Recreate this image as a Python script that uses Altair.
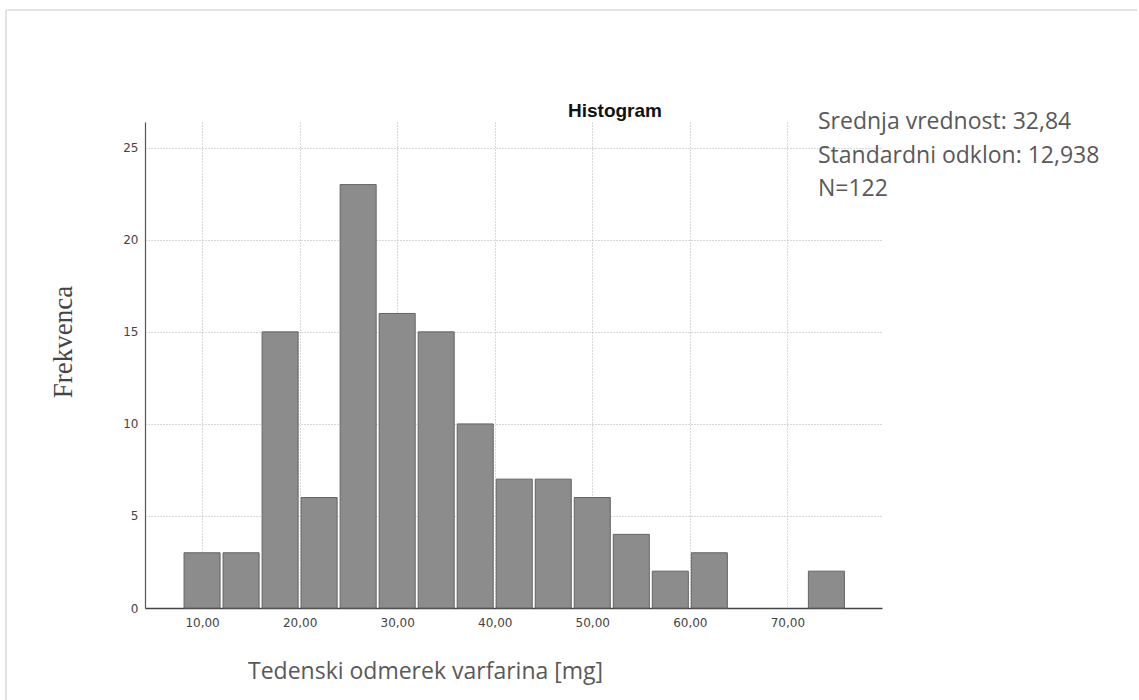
import altair as alt
import pandas as pd

# Histogram bins (lower edges, width 4 mg) and frequencies
bin_start = [8, 12, 16, 20, 24, 28, 32, 36, 40, 44, 48, 52, 56, 60, 64, 68, 72]
counts = [3, 3, 15, 6, 23, 16, 15, 10, 7, 7, 6, 4, 2, 3, 0, 0, 2]
bin_width = 4
x_ticks = [10, 20, 30, 40, 50, 60, 70]
y_ticks = [0, 5, 10, 15, 20, 25]
stats_lines = ["Srednja vrednost: 32,84", "Standardni odklon: 12,938", "N=122"]

df = pd.DataFrame({
    "start": bin_start,
    "end": [b + bin_width for b in bin_start],
    "count": counts,
})

W, H = 737, 486
xscale = alt.Scale(domain=[4.15, 79.7], nice=False, zero=False)
yscale = alt.Scale(domain=[0, 26.4], nice=False)

bars = alt.Chart(df).transform_filter("datum.count > 0").mark_bar(
    color="#8c8c8c", stroke="#636363", strokeWidth=1, xOffset=1.5, x2Offset=-1.5
).encode(
    x=alt.X("start:Q", scale=xscale,
            axis=alt.Axis(values=x_ticks, title=None, grid=True, gridDash=[1, 2],
                          gridColor="#b0b0b0", ticks=False, domainColor="#444444",
                          domainWidth=1.5, labelFont="DejaVu Sans", labelFontSize=12,
                          labelColor="#444444", labelPadding=9,
                          labelExpr="replace(format(datum.value, '.2f'), '.', ',')")),
    x2="end:Q",
    y=alt.Y("count:Q", scale=yscale,
            axis=alt.Axis(values=y_ticks, title=None, grid=True, gridDash=[1, 2],
                          gridColor="#b0b0b0", ticks=False, domainColor="#555555",
                          domainWidth=1.2, labelFont="DejaVu Sans", labelFontSize=12,
                          labelColor="#444444", labelPadding=7)),
    y2=alt.datum(0),
)

def txt(s, x, y, **kw):
    return alt.Chart(pd.DataFrame({"t": [s]})).mark_text(**kw).encode(
        x=alt.value(x), y=alt.value(y), text="t:N")

title = txt("Histogram", 470, -11, font="Liberation Sans", fontSize=19, fontWeight="bold",
            color="#111111", align="center", baseline="middle")
ytitle = txt("Frekvenca", -81, 220, font="Liberation Serif", fontSize=27, color="#444444",
             angle=270, align="center", baseline="middle")
xtitle = txt("Tedenski odmerek varfarina [mg]", 103, 550, font="Open Sans", fontSize=23,
             color="#595959", align="left", baseline="middle")
stats = [txt(s, 673, 0 + 33.5 * i, font="Open Sans", fontSize=23, color="#595959",
             align="left", baseline="middle") for i, s in enumerate(stats_lines)]

frame_top = alt.Chart(pd.DataFrame({"a": [0]})).mark_rule(color="#e3e3e3", strokeWidth=2).encode(
    x=alt.value(-139), x2=alt.value(992), y=alt.value(-112))
frame_left = alt.Chart(pd.DataFrame({"a": [0]})).mark_rule(color="#e3e3e3", strokeWidth=2).encode(
    x=alt.value(-139), y=alt.value(-112), y2=alt.value(578))

chart = alt.layer(frame_top, frame_left, bars, title, ytitle, xtitle, *stats).properties(
    width=W, height=H,
    background="white",
    autosize=alt.AutoSizeParams(type="none"),
    padding={"left": 145, "top": 122, "right": 257, "bottom": 92},
).configure_view(stroke="transparent", strokeWidth=0)

chart.save("out.html", embed_options={"renderer": "svg", "actions": False})
